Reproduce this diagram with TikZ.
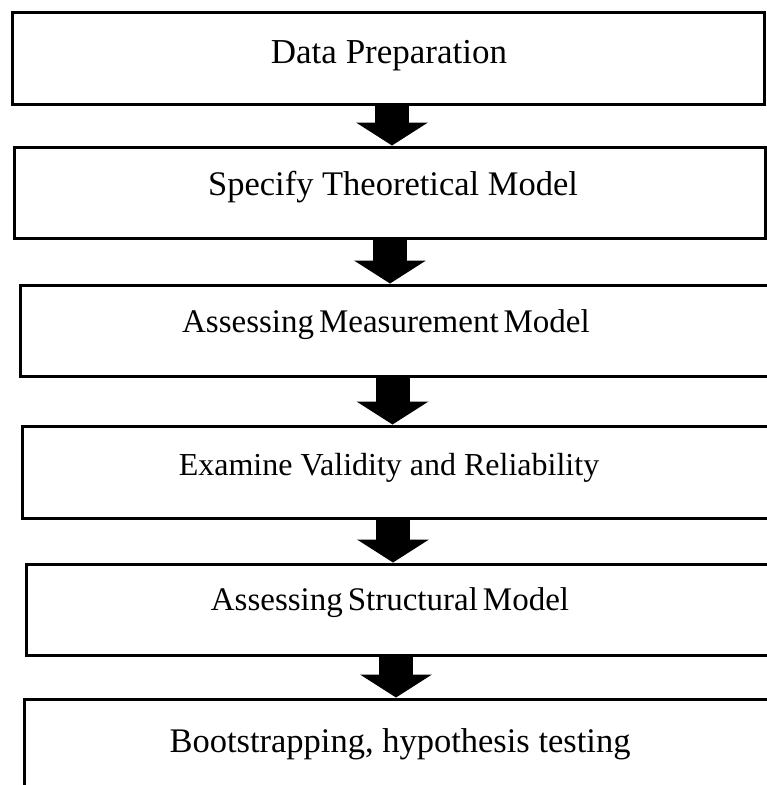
\documentclass[tikz,border=0pt]{standalone}
\usepackage{fontspec}
\setmainfont{Liberation Serif}
\usetikzlibrary{arrows.meta}
\begin{document}
\begin{tikzpicture}[x=1pt,y=-1pt,
  stepbox/.style={draw=black, line width=3pt, fill=white, inner sep=0pt},
  steptext/.style={anchor=base, inner sep=0pt, font=\fontsize{#1}{42}\selectfont},
  steptext/.default=35,
  tight/.style={execute at begin node={\spaceskip=0.15em\relax}},
  blockarrow/.style={draw=black, line width=34pt, -{Triangle[width=72pt,length=23pt,line width=0pt]}}]
\useasboundingbox (0,0) rectangle (767,785);
\clip (0,0) rectangle (767,785);
\fill[white] (0,0) rectangle (767,785);
% boxes
\node[stepbox, minimum width=752pt, minimum height=92pt] (b1) at (388.5,58) {};
\node[stepbox, minimum width=751pt, minimum height=91pt] (b2) at (390,192.5) {};
\node[stepbox, minimum width=770pt, minimum height=91pt] (b3) at (405,330.5) {};
\node[stepbox, minimum width=768pt, minimum height=92pt] (b4) at (406,472) {};
\node[stepbox, minimum width=764pt, minimum height=91pt] (b5) at (408,609.5) {};
\node[stepbox, minimum width=766pt, minimum height=131pt] (b6) at (407,764.5) {};
% texts
\node[steptext] (t1) at (389,63) {Data Preparation};
\node[steptext=34.5] (t2) at (393,195) {Specify Theoretical Model};
\node[steptext=33, tight] (t3) at (386,332) {Assessing Measurement Model};
\node[steptext=32] (t4) at (389,475) {Examine Validity and Reliability};
\node[steptext=33, tight] (t5) at (390,610) {Assessing Structural Model};
\node[steptext=34.5] (t6) at (400,752) {Bootstrapping, hypothesis testing};
% arrow x positions
\coordinate (a1) at (392,0);
\coordinate (a2) at (390,0);
\coordinate (a3) at (392.5,0);
\coordinate (a4) at (393,0);
\coordinate (a5) at (396,0);
\draw[blockarrow] (b1.south -| a1) -- (b2.north -| a1);
\draw[blockarrow] (b2.south -| a2) -- (b3.north -| a2);
\draw[blockarrow] (b3.south -| a3) -- (b4.north -| a3);
\draw[blockarrow] (b4.south -| a4) -- (b5.north -| a4);
\draw[blockarrow] (b5.south -| a5) -- (b6.north -| a5);
\end{tikzpicture}
\end{document}
